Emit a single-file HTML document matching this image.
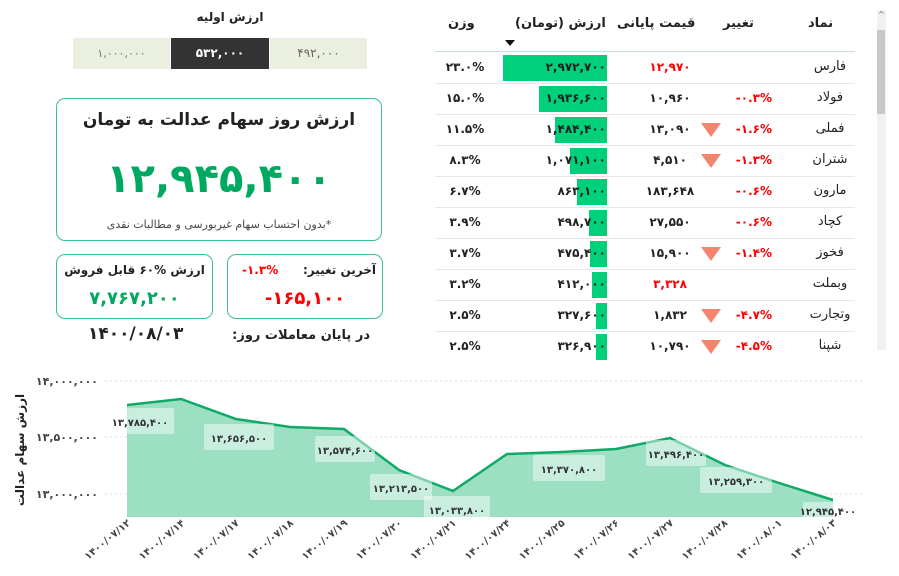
<!DOCTYPE html>
<html><head><meta charset="utf-8">
<style>
*{margin:0;padding:0;box-sizing:border-box}
body{width:899px;height:576px;background:#fff;font-family:"DejaVu Sans","Liberation Sans",sans-serif;color:#222;position:relative;overflow:hidden}
.a{position:absolute;white-space:nowrap}
.c{text-align:center}
.b{font-weight:bold}
.box{position:absolute;border:1px solid #3cc08a;border-radius:9px}
.red{color:#f00}
.tri{position:absolute;width:0;height:0;border-left:10px solid transparent;border-right:10px solid transparent;border-top:14px solid #f4846e}
.bar{position:absolute;height:26px;background:#00d07a}
.hl{position:absolute;left:435px;width:420px;height:1px;background:#e6e6e6}
</style></head><body>
<div class="a c b" style="left:150px;top:10px;width:160px;font-size:12px" dir="rtl">ارزش اولیه</div>
<div class="a c" style="left:73px;top:38px;width:97px;height:31px;background:#ebefe0;font-size:11px;line-height:31px;color:#777">۱,۰۰۰,۰۰۰</div>
<div class="a c b" style="left:171px;top:38px;width:98px;height:31px;background:#333;font-size:12px;line-height:31px;color:#fff">۵۳۲,۰۰۰</div>
<div class="a c" style="left:270px;top:38px;width:97px;height:31px;background:#ebefe0;font-size:12px;line-height:31px;color:#666">۴۹۲,۰۰۰</div>

<div class="box" style="left:56px;top:98px;width:326px;height:143px"></div>
<div class="a c b" style="left:56px;top:110px;width:326px;font-size:17px" dir="rtl">ارزش روز سهام عدالت به تومان</div>
<div class="a c b" style="left:56px;top:156px;width:326px;font-size:40px;color:#00a860">۱۲,۹۴۵,۴۰۰</div>
<div class="a c" style="left:56px;top:218px;width:326px;font-size:11px;color:#444" dir="rtl">*بدون احتساب سهام غیربورسی و مطالبات نقدی</div>

<div class="box" style="left:56px;top:254px;width:157px;height:65px"></div>
<div class="a c b" style="left:56px;top:263px;width:157px;font-size:12px" dir="rtl">ارزش <span dir="ltr">۶۰%</span> قابل فروش</div>
<div class="a c b" style="left:56px;top:288px;width:157px;font-size:18px;color:#00a860">۷,۷۶۷,۲۰۰</div>
<div class="box" style="left:227px;top:254px;width:156px;height:65px"></div>
<div class="a b" style="left:290px;top:263px;width:86px;font-size:12px;text-align:right" dir="rtl">آخرین تغییر:</div>
<div class="a b red" style="left:242px;top:263px;font-size:12px" dir="ltr">-۱.۳%</div>
<div class="a c b red" style="left:227px;top:288px;width:156px;font-size:18px">-۱۶۵,۱۰۰</div>
<div class="a b" style="left:88px;top:324px;font-size:17px">۱۴۰۰/۰۸/۰۳</div>
<div class="a b" style="left:240px;top:328px;width:130px;font-size:13px;text-align:right" dir="rtl">در پایان معاملات روز:</div>

<div class="a b" style="left:448px;top:16px;font-size:13px">وزن</div>
<div class="a b" style="left:515px;top:16px;font-size:13px">ارزش (تومان)</div>
<div class="a" style="left:505px;top:40px;border-left:5px solid transparent;border-right:5px solid transparent;border-top:6px solid #111"></div>
<div class="a b" style="left:617px;top:16px;font-size:13px">قیمت پایانی</div>
<div class="a b" style="left:723px;top:16px;font-size:13px">تغییر</div>
<div class="a b" style="left:808px;top:16px;font-size:13px">نماد</div>
<div class="a" style="left:435px;top:51px;width:420px;height:1px;background:#c8d8ee"></div>
<div class="a" style="left:877px;top:10px;width:9px;height:340px;background:#f1f1f1"></div>
<div class="a" style="left:877px;top:30px;width:8px;height:84px;background:#c8c8c8"></div>
<div class="a" style="left:878px;top:10px;font-size:8px;color:#666">^</div>

<div id="rows"></div>
<script>
var R=[["فارس","","", "۱۲,۹۷۰",1,"۲,۹۷۲,۷۰۰",104,"۲۳.۰%"],
["فولاد","-۰.۳%",0,"۱۰,۹۶۰",0,"۱,۹۳۶,۶۰۰",68,"۱۵.۰%"],
["فملی","-۱.۶%",1,"۱۳,۰۹۰",0,"۱,۴۸۴,۴۰۰",52,"۱۱.۵%"],
["شتران","-۱.۳%",1,"۴,۵۱۰",0,"۱,۰۷۱,۱۰۰",37,"۸.۳%"],
["مارون","-۰.۶%",0,"۱۸۳,۶۴۸",0,"۸۶۳,۱۰۰",30,"۶.۷%"],
["کچاد","-۰.۶%",0,"۲۷,۵۵۰",0,"۴۹۸,۷۰۰",18,"۳.۹%"],
["فخوز","-۱.۴%",1,"۱۵,۹۰۰",0,"۴۷۵,۴۰۰",17,"۳.۷%"],
["وبملت","",0,"۳,۳۲۸",1,"۴۱۲,۰۰۰",15,"۳.۲%"],
["وتجارت","-۴.۷%",1,"۱,۸۳۲",0,"۳۲۷,۶۰۰",11,"۲.۵%"],
["شپنا","-۴.۵%",1,"۱۰,۷۹۰",0,"۳۲۶,۹۰۰",11,"۲.۵%"]];
var h="";
R.forEach(function(r,i){var y=52+i*31;
if(i>0)h+='<div class="hl" style="top:'+y+'px"></div>';
h+='<div class="a c" style="left:795px;top:'+(y+7)+'px;width:70px;font-size:13px">'+r[0]+'</div>';
h+='<div class="a b red" dir="ltr" style="left:700px;top:'+(y+8)+'px;width:72px;text-align:right;font-size:12px">'+r[1]+'</div>';
if(r[2])h+='<div class="tri" style="left:701px;top:'+(y+9)+'px"></div>';
h+='<div class="a c b'+(r[4]?' red':'')+'" style="left:625px;top:'+(y+8)+'px;width:90px;font-size:12px">'+r[3]+'</div>';
h+='<div class="bar" style="left:'+(607-r[6])+'px;top:'+(y+3)+'px;width:'+r[6]+'px"></div>';
h+='<div class="a b" style="left:500px;top:'+(y+8)+'px;width:106px;text-align:right;font-size:12px">'+r[5]+'</div>';
h+='<div class="a c b" dir="ltr" style="left:435px;top:'+(y+8)+'px;width:60px;font-size:12px">'+r[7]+'</div>';
});
document.getElementById("rows").innerHTML=h;
</script>

<svg class="a" style="left:0;top:0" width="899" height="576">
<g stroke="#ddd" stroke-dasharray="2,3">
<line x1="105" y1="381" x2="865" y2="381"/><line x1="105" y1="437" x2="865" y2="437"/><line x1="105" y1="494" x2="865" y2="494"/></g>
<g font-size="11" font-weight="bold" fill="#444" text-anchor="end" font-family="DejaVu Sans">
<text x="98" y="385">۱۴,۰۰۰,۰۰۰</text><text x="98" y="441">۱۳,۵۰۰,۰۰۰</text><text x="98" y="498">۱۳,۰۰۰,۰۰۰</text></g>
<text transform="translate(24,450) rotate(-90)" text-anchor="middle" font-size="12" font-weight="bold" fill="#222" font-family="DejaVu Sans">ارزش سهام عدالت</text>
<polygon fill="#9ddfc3" points="127,517 127,405 181,399 236,419 290,427 344,429 399,470 453,491 507,454 562,452 616,449 670,438 725,465 779,483 833,500 833,517"/>
<polyline fill="none" stroke="#0fa968" stroke-width="2.5" points="127,405 181,399 236,419 290,427 344,429 399,470 453,491 507,454 562,452 616,449 670,438 725,465 779,483 833,500"/>
<g fill="#fff" fill-opacity="0.45">
<rect x="127" y="408" width="47" height="26" rx="2"/><rect x="204" y="424" width="70" height="26" rx="2"/>
<rect x="315" y="436" width="60" height="26" rx="2"/><rect x="370" y="474" width="62" height="26" rx="2"/>
<rect x="424" y="496" width="66" height="26" rx="2"/><rect x="533" y="455" width="72" height="26" rx="2"/>
<rect x="646" y="440" width="60" height="26" rx="2"/><rect x="700" y="467" width="72" height="26" rx="2"/>
<rect x="803" y="502" width="55" height="15" rx="2"/></g>
<g font-size="10" font-weight="bold" fill="#333" text-anchor="middle" font-family="DejaVu Sans">
<text x="140" y="426">۱۳,۷۸۵,۴۰۰</text><text x="239" y="442">۱۳,۶۵۶,۵۰۰</text>
<text x="345" y="454">۱۳,۵۷۴,۶۰۰</text><text x="401" y="492">۱۳,۲۱۳,۵۰۰</text>
<text x="457" y="514">۱۳,۰۳۳,۸۰۰</text><text x="569" y="473">۱۳,۳۷۰,۸۰۰</text>
<text x="676" y="458">۱۳,۴۹۶,۴۰۰</text><text x="736" y="485">۱۳,۲۵۹,۳۰۰</text>
<text x="828" y="515">۱۲,۹۴۵,۴۰۰</text></g>
<g font-size="10" font-weight="bold" fill="#444" text-anchor="end" font-family="DejaVu Sans" id="xl"></g>
</svg>
<script>
var d=["۱۴۰۰/۰۷/۱۲","۱۴۰۰/۰۷/۱۴","۱۴۰۰/۰۷/۱۷","۱۴۰۰/۰۷/۱۸","۱۴۰۰/۰۷/۱۹","۱۴۰۰/۰۷/۲۰","۱۴۰۰/۰۷/۲۱","۱۴۰۰/۰۷/۲۴","۱۴۰۰/۰۷/۲۵","۱۴۰۰/۰۷/۲۶","۱۴۰۰/۰۷/۲۷","۱۴۰۰/۰۷/۲۸","۱۴۰۰/۰۸/۰۱","۱۴۰۰/۰۸/۰۳"];
var s="";d.forEach(function(t,i){var x=127+i*54.3;s+='<text transform="translate('+(x+4)+',524) rotate(-40)">'+t+'</text>';});
document.getElementById("xl").innerHTML=s;
</script>
</body></html>
